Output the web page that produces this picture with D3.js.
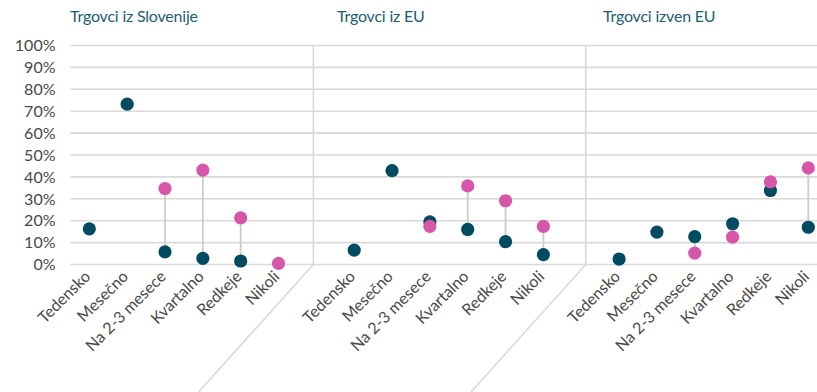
<!DOCTYPE html>
<html>
<head>
<meta charset="utf-8">
<script src="https://cdn.jsdelivr.net/npm/d3@7"></script>
<style>
  body { margin: 0; background: #fff; }
  svg { display: block; font-family: Lato, "Open Sans", sans-serif; }
</style>
</head>
<body>
<div id="app"></div>
<script>
const groups = ['Trgovci iz Slovenije', 'Trgovci iz EU', 'Trgovci izven EU']
const categories = ['Tedensko', 'Mesečno', 'Na 2-3 mesece', 'Kvartalno', 'Redkeje', 'Nikoli']
// dark series (%), one row per group
const darkValues = [
  [16.3, 73.2, 5.8, 2.8, 1.6, null],
  [6.6, 42.9, 19.5, 16.0, 10.4, 4.5],
  [2.5, 14.8, 12.7, 18.6, 33.8, 17.0],
]
// pink series (%)
const pinkValues = [
  [null, null, 34.7, 43.1, 21.3, 0.5],
  [null, null, 17.4, 35.9, 29.1, 17.4],
  [null, null, 5.2, 12.5, 37.7, 44.1],
]
const yTicks = [0, 10, 20, 30, 40, 50, 60, 70, 80, 90, 100]

const config = {
  width: 817,
  height: 392,
  left: 70.4,
  slot: 37.84,
  top: 45.5,
  bottom: 264.5,
  radius: 6.6,
  dark: '#004b5f',
  pink: '#d656aa',
  grid: '#d9d9d9',
  text: '#484848',
  title: '#1d5e70',
}

// slots: each group's categories, one blank slot between groups
const slots = []
groups.forEach((g, gi) => {
  categories.forEach((c) => slots.push(`${gi}|${c}`))
  if (gi < groups.length - 1) slots.push(`${gi}|blank`)
})

const x = d3
  .scaleBand()
  .domain(slots)
  .range([config.left, config.left + slots.length * config.slot])
const y = d3.scaleLinear().domain([0, 100]).range([config.bottom, config.top])
const cx = (key) => x(key) + x.bandwidth() / 2

const svg = d3
  .select('#app')
  .append('svg')
  .attr('width', config.width)
  .attr('height', config.height)

// gridlines
svg
  .append('g')
  .selectAll('line')
  .data(yTicks)
  .join('line')
  .attr('x1', config.left)
  .attr('x2', config.width)
  .attr('y1', (d) => y(d))
  .attr('y2', (d) => y(d))
  .attr('stroke', config.grid)
  .attr('stroke-width', 1.6)

// y tick labels
svg
  .append('g')
  .selectAll('text')
  .data(yTicks)
  .join('text')
  .attr('x', 55.5)
  .attr('y', (d) => y(d))
  .attr('dy', '0.36em')
  .attr('text-anchor', 'end')
  .attr('fill', config.text)
  .style('font-size', '16px')
  .text((d) => d + '%')

// group separators: vertical + diagonal under the axis (Excel puts them a bit off the blank slot centre)
const sepShift = [-3, 4.5]
const seps = groups.slice(0, -1).map((g, gi) => cx(`${gi}|blank`) + sepShift[gi])
const sepG = svg.append('g').attr('stroke', config.grid).attr('stroke-width', 1.6).attr('fill', 'none')
seps.forEach((sx) => {
  sepG
    .append('path')
    .attr('d', `M${sx},${y(100)}V${y(0)}L${sx - (config.height - y(0)) * 0.9},${config.height}`)
})

// titles
const titleX = [70, 337, 603]
svg
  .append('g')
  .selectAll('text')
  .data(groups)
  .join('text')
  .attr('x', (d, i) => titleX[i])
  .attr('y', 22)
  .attr('fill', config.title)
  .style('font-size', '16px')
  .style('letter-spacing', '-0.2px')
  .text((d) => d)

// category labels
const labelData = []
groups.forEach((g, gi) => categories.forEach((c) => labelData.push({key: `${gi}|${c}`, c})))
svg
  .append('g')
  .selectAll('text')
  .data(labelData)
  .join('text')
  .attr('transform', (d) => `translate(${cx(d.key) + 2},${y(0) + 13}) rotate(-45)`)
  .attr('text-anchor', 'end')
  .attr('fill', config.text)
  .style('font-size', '16px')
  .text((d) => d.c)

// points
const points = []
groups.forEach((g, gi) =>
  categories.forEach((c, ci) =>
    points.push({key: `${gi}|${c}`, dark: darkValues[gi][ci], pink: pinkValues[gi][ci]}),
  ),
)

// high-low connectors
svg
  .append('g')
  .selectAll('line')
  .data(points.filter((d) => d.dark != null && d.pink != null))
  .join('line')
  .attr('x1', (d) => cx(d.key))
  .attr('x2', (d) => cx(d.key))
  .attr('y1', (d) => y(d.dark))
  .attr('y2', (d) => y(d.pink))
  .attr('stroke', '#cccccc')
  .attr('stroke-width', 1.8)

svg
  .append('g')
  .selectAll('circle')
  .data(points.filter((d) => d.dark != null))
  .join('circle')
  .attr('cx', (d) => cx(d.key))
  .attr('cy', (d) => y(d.dark))
  .attr('r', config.radius)
  .attr('fill', config.dark)

svg
  .append('g')
  .selectAll('circle')
  .data(points.filter((d) => d.pink != null))
  .join('circle')
  .attr('cx', (d) => cx(d.key))
  .attr('cy', (d) => y(d.pink))
  .attr('r', config.radius)
  .attr('fill', config.pink)
</script>
</body>
</html>
